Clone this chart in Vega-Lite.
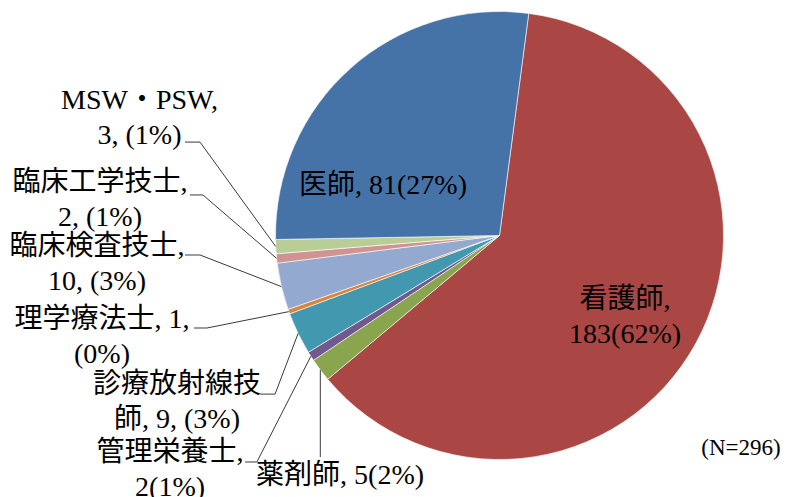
{
  "$schema": "https://vega.github.io/schema/vega-lite/v6.json",
  "width": 579,
  "height": 471,
  "autosize": "none",
  "padding": {"left": 210, "top": 0, "right": 0, "bottom": 26},
  "background": "#ffffff",
  "config": {
    "view": {"stroke": null},
    "text": {"font": "Liberation Serif, Noto Sans CJK JP", "color": "#000000"}
  },
  "datasets": {
    "slices": [
      {"職種": "看護師", "人数": 183, "順": 1, "ラベル": "看護師,\n183(62%)"},
      {"職種": "薬剤師", "人数": 5, "順": 2, "ラベル": "薬剤師, 5(2%)"},
      {"職種": "管理栄養士", "人数": 2, "順": 3, "ラベル": "管理栄養士,\n2(1%)"},
      {"職種": "診療放射線技師", "人数": 9, "順": 4, "ラベル": "診療放射線技\n師, 9, (3%)"},
      {"職種": "理学療法士", "人数": 1, "順": 5, "ラベル": "理学療法士, 1,\n(0%)"},
      {"職種": "臨床検査技士", "人数": 10, "順": 6, "ラベル": "臨床検査技士,\n10, (3%)"},
      {"職種": "臨床工学技士", "人数": 2, "順": 7, "ラベル": "臨床工学技士,\n2, (1%)"},
      {"職種": "MSW・PSW", "人数": 3, "順": 8, "ラベル": "MSW・PSW,\n3, (1%)"},
      {"職種": "医師", "人数": 81, "順": 9, "ラベル": "医師, 81(27%)"}
    ],
    "leaders": [
      {"職種": "MSW・PSW", "点": 1, "lx": -140.4, "ly": 41.7},
      {"職種": "MSW・PSW", "点": 2, "lx": -133.7, "ly": 41.7},
      {"職種": "MSW・PSW", "点": 3, "lx": -99.9, "ly": -4.9},
      {"職種": "臨床工学技士", "点": 1, "lx": -138.2, "ly": 18.1},
      {"職種": "臨床工学技士", "点": 2, "lx": -132.4, "ly": 18.1},
      {"職種": "臨床工学技士", "点": 3, "lx": -99.5, "ly": -10.2},
      {"職種": "臨床検査技士", "点": 1, "lx": -140.4, "ly": -8.7},
      {"職種": "臨床検査技士", "点": 2, "lx": -133.7, "ly": -8.7},
      {"職種": "臨床検査技士", "点": 3, "lx": -97.4, "ly": -22.8},
      {"職種": "理学療法士", "点": 1, "lx": -136.4, "ly": -41.3},
      {"職種": "理学療法士", "点": 2, "lx": -130.6, "ly": -41.3},
      {"職種": "理学療法士", "点": 3, "lx": -94.1, "ly": -34.0},
      {"職種": "診療放射線技師", "点": 1, "lx": -106.9, "ly": -70.8},
      {"職種": "診療放射線技師", "点": 2, "lx": -100.2, "ly": -70.8},
      {"職種": "診療放射線技師", "点": 3, "lx": -89.9, "ly": -43.7},
      {"職種": "管理栄養士", "点": 1, "lx": -113.6, "ly": -101.1},
      {"職種": "管理栄養士", "点": 2, "lx": -108.3, "ly": -101.1},
      {"職種": "管理栄養士", "点": 3, "lx": -84.2, "ly": -53.9},
      {"職種": "薬剤師", "点": 1, "lx": -80.0, "ly": -98.9},
      {"職種": "薬剤師", "点": 2, "lx": -80.0, "ly": -60.0}
    ]
  },
  "layer": [
    {
      "data": {"name": "slices"},
      "encoding": {
        "theta": {"field": "人数", "type": "quantitative", "stack": true, "scale": {"range": [0.1309, 6.4141]}},
        "order": {"field": "順", "type": "quantitative"}
      },
      "layer": [
        {
          "mark": {"type": "arc", "outerRadius": 224, "stroke": "#ffffff", "strokeWidth": 0.6},
          "encoding": {
            "color": {
              "field": "職種", "type": "nominal", "legend": null,
              "scale": {
                "domain": ["看護師", "薬剤師", "管理栄養士", "診療放射線技師", "理学療法士", "臨床検査技士", "臨床工学技士", "MSW・PSW", "医師"],
                "range": ["#AA4643", "#89A54E", "#71588F", "#4198AF", "#DB843D", "#93A9CF", "#D19392", "#B9CD96", "#4572A7"]
              }
            }
          }
        },
        {
          "mark": {"type": "text", "radius": 150, "dx": -5.9, "dy": -7.8, "fontSize": 28, "lineHeight": 35, "lineBreak": "\n", "align": "center", "baseline": "middle"},
          "encoding": {"text": {"condition": {"test": "datum['職種'] === '看護師'", "field": "ラベル"}, "value": ""}}
        },
        {
          "mark": {"type": "text", "radius": 127, "dx": -31.9, "dy": 45.3, "fontSize": 28, "lineHeight": 35, "lineBreak": "\n", "align": "center", "baseline": "middle"},
          "encoding": {"text": {"condition": {"test": "datum['職種'] === '医師'", "field": "ラベル"}, "value": ""}}
        },
        {
          "mark": {"type": "text", "radius": 224, "dx": 19.7, "dy": 106.5, "fontSize": 28, "lineHeight": 35, "lineBreak": "\n", "align": "center", "baseline": "middle"},
          "encoding": {"text": {"condition": {"test": "datum['職種'] === '薬剤師'", "field": "ラベル"}, "value": ""}}
        },
        {
          "mark": {"type": "text", "radius": 224, "dx": -140.8, "dy": 96.7, "fontSize": 28, "lineHeight": 35, "lineBreak": "\n", "align": "center", "baseline": "middle"},
          "encoding": {"text": {"condition": {"test": "datum['職種'] === '管理栄養士'", "field": "ラベル"}, "value": ""}}
        },
        {
          "mark": {"type": "text", "radius": 224, "dx": -121.1, "dy": 51.5, "fontSize": 28, "lineHeight": 35, "lineBreak": "\n", "align": "center", "baseline": "middle"},
          "encoding": {"text": {"condition": {"test": "datum['職種'] === '診療放射線技師'", "field": "ラベル"}, "value": ""}}
        },
        {
          "mark": {"type": "text", "radius": 224, "dx": -186.8, "dy": 8.4, "fontSize": 28, "lineHeight": 35, "lineBreak": "\n", "align": "center", "baseline": "middle"},
          "encoding": {"text": {"condition": {"test": "datum['職種'] === '理学療法士'", "field": "ラベル"}, "value": ""}}
        },
        {
          "mark": {"type": "text", "radius": 224, "dx": -184.4, "dy": -39.5, "fontSize": 28, "lineHeight": 35, "lineBreak": "\n", "align": "center", "baseline": "middle"},
          "encoding": {"text": {"condition": {"test": "datum['職種'] === '臨床検査技士'", "field": "ラベル"}, "value": ""}}
        },
        {
          "mark": {"type": "text", "radius": 224, "dx": -176.7, "dy": -75.9, "fontSize": 28, "lineHeight": 35, "lineBreak": "\n", "align": "center", "baseline": "middle"},
          "encoding": {"text": {"condition": {"test": "datum['職種'] === '臨床工学技士'", "field": "ラベル"}, "value": ""}}
        },
        {
          "mark": {"type": "text", "radius": 224, "dx": -136.3, "dy": -145.6, "fontSize": 28, "lineHeight": 35, "lineBreak": "\n", "align": "center", "baseline": "middle"},
          "encoding": {"text": {"condition": {"test": "datum['職種'] === 'MSW・PSW'", "field": "ラベル"}, "value": ""}}
        }
      ]
    },
    {
      "data": {"name": "leaders"},
      "mark": {"type": "line", "color": "#3a3a3a", "strokeWidth": 1},
      "encoding": {
        "x": {"field": "lx", "type": "quantitative", "axis": null, "scale": {"domain": [-129.24, 129.24], "nice": false, "zero": false}},
        "y": {"field": "ly", "type": "quantitative", "axis": null, "scale": {"domain": [-105.13, 105.13], "nice": false, "zero": false}},
        "detail": {"field": "職種", "type": "nominal"},
        "order": {"field": "点", "type": "quantitative"}
      }
    },
    {
      "data": {"values": [{"注記": "(N=296)"}]},
      "mark": {"type": "text", "fontSize": 23, "align": "center", "baseline": "middle"},
      "encoding": {
        "x": {"datum": 107.8, "type": "quantitative", "axis": null, "scale": {"domain": [-129.24, 129.24], "nice": false, "zero": false}},
        "y": {"datum": -94.9, "type": "quantitative", "axis": null, "scale": {"domain": [-105.13, 105.13], "nice": false, "zero": false}},
        "text": {"field": "注記", "type": "nominal"}
      }
    }
  ]
}
